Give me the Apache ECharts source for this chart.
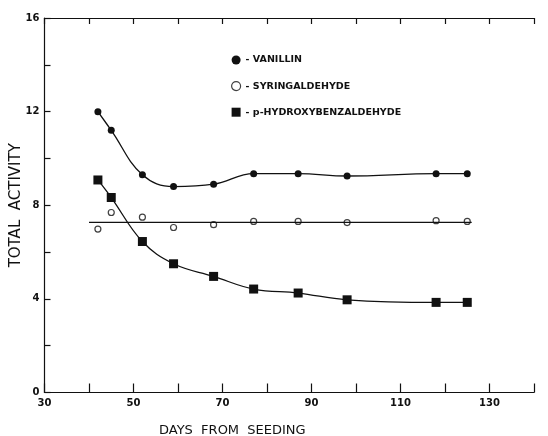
<!DOCTYPE html>
<html>
<head>
<meta charset="utf-8">
<script src="https://cdn.jsdelivr.net/npm/echarts@6/dist/echarts.min.js"></script>
<style>
  html, body { margin: 0; padding: 0; background: #fff; }
  #chart { width: 548px; height: 436px; }
</style>
</head>
<body>
<div id="chart"></div>
<script>
  // days from seeding
  const days = [42, 45, 52, 59, 68, 77, 87, 98, 118, 125]
  const vanillin = [12.0, 11.2, 9.3, 8.8, 8.9, 9.35, 9.35, 9.25, 9.35, 9.35]
  const syringaldehyde = [6.98, 7.69, 7.49, 7.05, 7.17, 7.31, 7.31, 7.26, 7.34, 7.31]
  const hydroxybenz = [9.08, 8.33, 6.45, 5.5, 4.96, 4.42, 4.25, 3.96, 3.85, 3.85]
  // fitted mean line for syringaldehyde
  const syrFitDays = [40, 126]
  const syrFitValue = 7.27

  const xTickLabels = [30, 50, 70, 90, 110, 130]
  const yTickLabels = [0, 4, 8, 12, 16]

  const pairs = (ys) => days.map((d, i) => [d, ys[i]])
  const font = 'DejaVu Sans'

  const chart = echarts.init(document.getElementById('chart'))

  const option = {
    backgroundColor: '#fff',
    animation: false,
    grid: { left: 44.5, right: 14, top: 18, bottom: 43.5, containLabel: false, outerBoundsMode: 'none' },
    title: {
      text: 'DAYS  FROM  SEEDING',
      left: 154,
      top: 419,
      textStyle: { fontFamily: font, fontSize: 13, fontWeight: 'normal', color: '#111' }
    },
    legend: {
      orient: 'vertical',
      left: 226,
      top: 50,
      itemGap: 16,
      itemWidth: 9,
      itemHeight: 9,
      formatter: '- {name}',
      textStyle: { fontFamily: font, fontSize: 9.5, fontWeight: 'bold', color: '#111' },
      data: [
        { name: 'VANILLIN', icon: 'circle', itemStyle: { color: '#111', borderWidth: 0 } },
        { name: 'SYRINGALDEHYDE', icon: 'circle', itemStyle: { color: '#fff', borderColor: '#111', borderWidth: 1.2 } },
        { name: 'p-HYDROXYBENZALDEHYDE', icon: 'rect', itemStyle: { color: '#111', borderWidth: 0 } }
      ]
    },
    xAxis: [
      {
        type: 'value',
        min: 30,
        max: 140,
        interval: 10,
        axisLine: { lineStyle: { color: '#111', width: 1.2 } },
        axisTick: { inside: true, length: 9, lineStyle: { color: '#111', width: 1.2 } },
        axisLabel: {
          color: '#111',
          fontFamily: font,
          fontSize: 10,
          fontWeight: 'bold',
          margin: 6,
          formatter: (v) => (xTickLabels.includes(v) ? String(v) : '')
        },
        splitLine: { show: false }
      },
      {
        type: 'value',
        position: 'top',
        min: 30,
        max: 140,
        interval: 10,
        axisLine: { lineStyle: { color: '#111', width: 1.2 } },
        axisTick: { inside: true, length: 6, lineStyle: { color: '#111', width: 1.2 } },
        axisLabel: { show: false },
        splitLine: { show: false }
      }
    ],
    yAxis: {
      type: 'value',
      min: 0,
      max: 16,
      interval: 2,
      name: 'TOTAL  ACTIVITY',
      nameLocation: 'middle',
      nameGap: 21,
      nameMoveOverlap: false,
      nameRotate: 90,
      nameTextStyle: { fontFamily: font, fontSize: 15, color: '#111' },
      axisLine: { show: true, lineStyle: { color: '#111', width: 1.2 } },
      axisTick: { show: true, inside: true, length: 6, lineStyle: { color: '#111', width: 1.2 } },
      axisLabel: {
        color: '#111',
        fontFamily: font,
        fontSize: 10,
        fontWeight: 'bold',
        margin: 5,
        formatter: (v) => (yTickLabels.includes(v) ? String(v) : '')
      },
      splitLine: { show: false }
    },
    series: [
      {
        name: 'VANILLIN',
        type: 'line',
        smooth: 0.4,
        symbol: 'circle',
        symbolSize: 7,
        itemStyle: { color: '#111' },
        lineStyle: { color: '#111', width: 1.3 },
        data: pairs(vanillin)
      },
      {
        name: 'SYRINGALDEHYDE',
        type: 'scatter',
        symbol: 'circle',
        symbolSize: 6,
        itemStyle: { color: '#fff', borderColor: '#111', borderWidth: 1.2 },
        data: pairs(syringaldehyde)
      },
      {
        name: 'syrFit',
        type: 'line',
        symbol: 'none',
        silent: true,
        lineStyle: { color: '#111', width: 1.3 },
        data: syrFitDays.map((d) => [d, syrFitValue])
      },
      {
        name: 'p-HYDROXYBENZALDEHYDE',
        type: 'line',
        smooth: 0.4,
        symbol: 'rect',
        symbolSize: 9,
        itemStyle: { color: '#111' },
        lineStyle: { color: '#111', width: 1.3 },
        data: pairs(hydroxybenz)
      }
    ]
  }

  chart.setOption(option)
</script>
</body>
</html>
